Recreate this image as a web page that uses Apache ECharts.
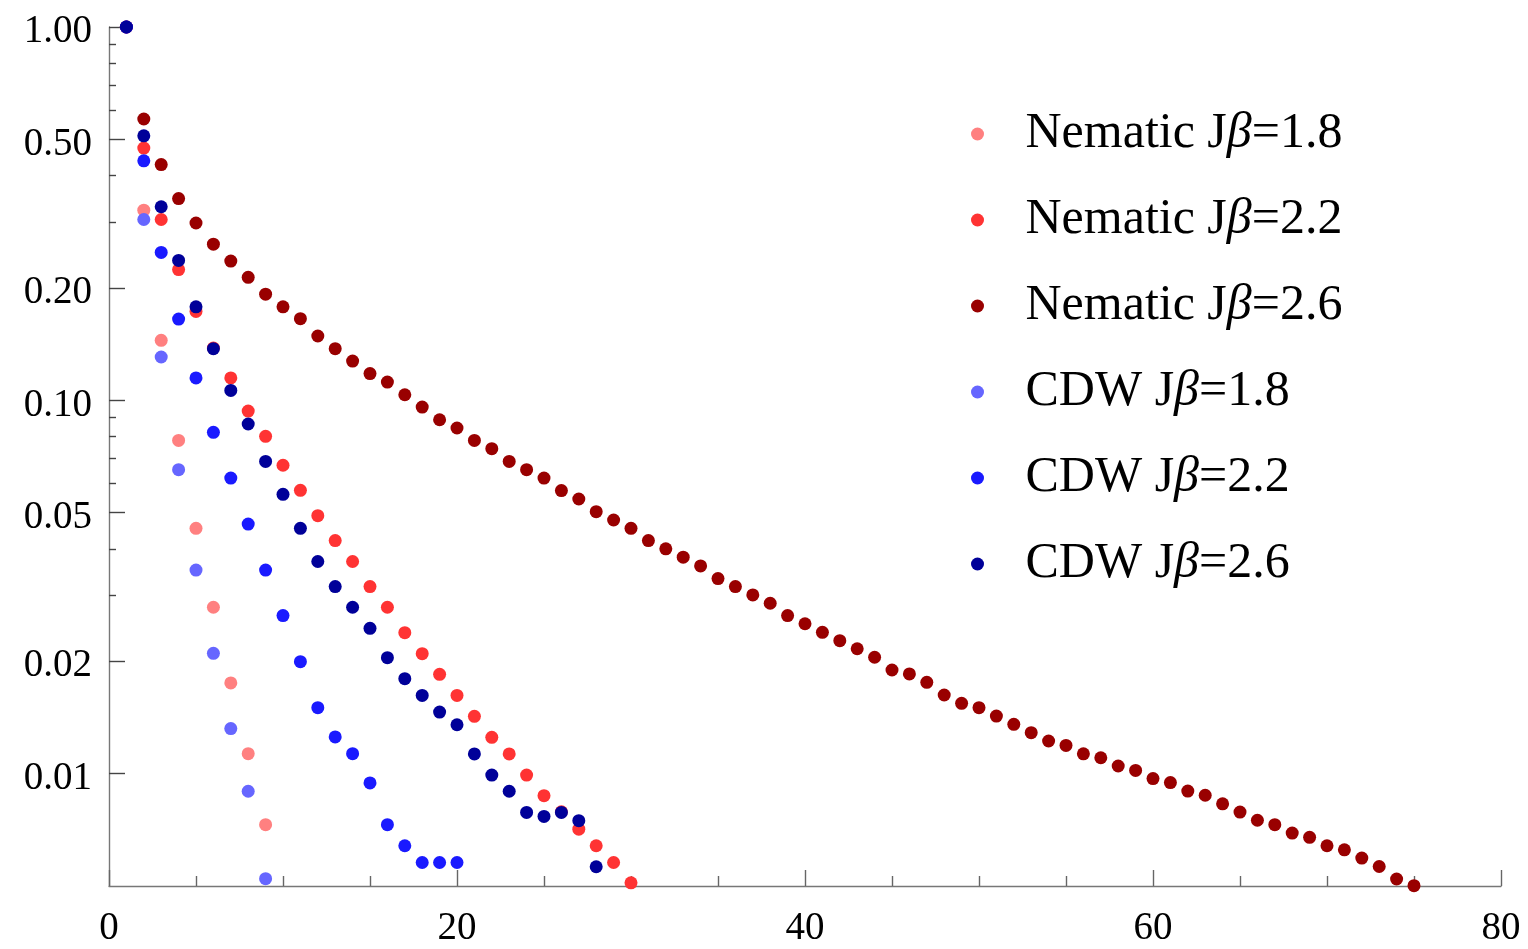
<!DOCTYPE html>
<html><head><meta charset="utf-8">
<script src="https://cdn.jsdelivr.net/npm/echarts@6/dist/echarts.min.js"></script>
<style>html,body{margin:0;padding:0;background:#fff}#c{width:1528px;height:949px}</style>
</head><body><div id="c"></div>
<script>
// distances r
const r = [1,2,3,4,5,6,7,8,9,10,11,12,13,14,15,16,17,18,19,20,21,22,23,24,25,26,27,28,29,30,
  31,32,33,34,35,36,37,38,39,40,41,42,43,44,45,46,47,48,49,50,51,52,53,54,55,56,57,58,59,60,
  61,62,63,64,65,66,67,68,69,70,71,72,73,74,75];

const nematic18 = [1.0, 0.323, 0.1448, 0.0781, 0.0454, 0.0279, 0.0175, 0.01131, 0.0073];
const nematic22 = [1.0, 0.474, 0.305, 0.224, 0.173, 0.138, 0.1148, 0.0936, 0.0801, 0.067,
  0.0574, 0.0491, 0.0421, 0.037, 0.0317, 0.0279, 0.02385, 0.02095, 0.01845, 0.0162,
  0.01424, 0.01251, 0.01129, 0.00991, 0.00873, 0.0079, 0.0071, 0.00641, 0.00578, 0.0051];
const nematic26 = [1.0, 0.567, 0.428, 0.347, 0.2985, 0.262, 0.236, 0.2135, 0.1925, 0.178,
  0.1655, 0.1487, 0.1375, 0.1274, 0.1179, 0.1119, 0.1035, 0.0959, 0.0887, 0.0843,
  0.0781, 0.0742, 0.0686, 0.0652, 0.0619, 0.0573, 0.0544, 0.0503, 0.0478, 0.0454,
  0.0421, 0.040, 0.038, 0.036, 0.0333, 0.0317, 0.0301, 0.0286, 0.0265, 0.0252,
  0.0239, 0.0227, 0.0216, 0.0205, 0.01895, 0.0185, 0.01756, 0.01624, 0.01543, 0.01502,
  0.01426, 0.01355, 0.01287, 0.01223, 0.0119, 0.0113, 0.01103, 0.01048, 0.0102, 0.0097,
  0.00946, 0.00898, 0.00875, 0.0083, 0.00789, 0.0075, 0.0073, 0.00693, 0.00675, 0.00641,
  0.00625, 0.00594, 0.00564, 0.00522, 0.00501];
const cdw18 = [1.0, 0.305, 0.1306, 0.0652, 0.0351, 0.021, 0.0132, 0.00897, 0.00523];
const cdw22 = [1.0, 0.438, 0.249, 0.165, 0.1148, 0.0821, 0.0619, 0.0466, 0.0351, 0.0265,
  0.01995, 0.01502, 0.01254, 0.01131, 0.00944, 0.0073, 0.00641, 0.00578, 0.00578, 0.00578];
const cdw26 = [1.0, 0.511, 0.330, 0.237, 0.178, 0.1375, 0.1063, 0.0864, 0.0686, 0.056,
  0.0454, 0.037, 0.0317, 0.0279, 0.0245, 0.02044, 0.01796, 0.0162, 0.01462, 0.01352,
  0.01129, 0.00991, 0.00897, 0.00787, 0.00768, 0.00787, 0.00748, 0.00563];

const seriesNames = ['Nematic Jβ=1.8','Nematic Jβ=2.2','Nematic Jβ=2.6','CDW Jβ=1.8','CDW Jβ=2.2','CDW Jβ=2.6'];
const seriesValues = [nematic18, nematic22, nematic26, cdw18, cdw22, cdw26];
const seriesColors = ['#ff8080','#ff3333','#990000','#6666ff','#1a1aff','#000099'];

const yMajorTicks = [1, 0.5, 0.2, 0.1, 0.05, 0.02, 0.01];
const yMinorTicks = [0.9, 0.8, 0.7, 0.6, 0.4, 0.3, 0.09, 0.08, 0.07, 0.06, 0.04, 0.03];

const FONT = '"Liberation Serif", "Times New Roman", serif';

const chart = echarts.init(document.getElementById('c'), null, {renderer: 'canvas'});
const series = seriesNames.map((n, i) => ({
  name: n,
  type: 'scatter',
  symbol: 'circle',
  symbolSize: 13,
  itemStyle: {color: seriesColors[i], opacity: 1},
  data: seriesValues[i].map((v, k) => [r[k], v]),
  xAxisIndex: 0, yAxisIndex: 0,
  z: 2 + i
}));

chart.setOption({
  backgroundColor: '#fff',
  animation: false,
  grid: {left: 109, right: 27, top: 27, bottom: 63},
  legend: {
    orient: 'vertical',
    left: 966, top: 104,
    itemWidth: 86, itemHeight: 13,
    itemGap: 36,
    icon: 'circle',
    data: seriesNames,
    formatter: n => n.replace('β', '{i|β}'),
    textStyle: {
      fontFamily: FONT, fontSize: 50, color: '#000', lineHeight: 50,
      rich: {i: {fontFamily: FONT, fontSize: 50, fontStyle: 'italic', color: '#000', lineHeight: 50}}
    }
  },
  xAxis: {
    type: 'value', min: 0, max: 80, interval: 20,
    axisLine: {onZero: false, lineStyle: {color: '#777', width: 1.4}},
    axisTick: {show: true, inside: true, length: 16, lineStyle: {color: '#666', width: 1.4}},
    minorTick: {show: true, splitNumber: 4, length: 10, lineStyle: {color: '#666', width: 1.4}},
    splitLine: {show: false},
    axisLabel: {fontFamily: FONT, fontSize: 39, color: '#000', margin: 23}
  },
  yAxis: [{
    type: 'log', min: 0.005, max: 1, logBase: 10,
    axisLine: {show: true, lineStyle: {color: '#777', width: 1.4}},
    axisTick: {show: true, inside: true, length: 16, customValues: yMajorTicks, lineStyle: {color: '#444', width: 1.4}},
    splitLine: {show: false},
    axisLabel: {fontFamily: FONT, fontSize: 39, color: '#000', margin: 17,
      customValues: yMajorTicks,
      formatter: v => '{a|' + Number(v).toFixed(2) + '}',
      rich: {a: {fontFamily: FONT, fontSize: 39, color: '#000', padding: [10, 0, 0, 0]}}}
  }, {
    type: 'log', min: 0.005, max: 1, logBase: 10, position: 'left', offset: 0,
    axisLine: {show: false},
    axisTick: {show: true, inside: true, length: 7, customValues: yMinorTicks, lineStyle: {color: '#444', width: 1.4}},
    splitLine: {show: false},
    axisLabel: {show: false}
  }],
  series: series
});
</script>
</body></html>
